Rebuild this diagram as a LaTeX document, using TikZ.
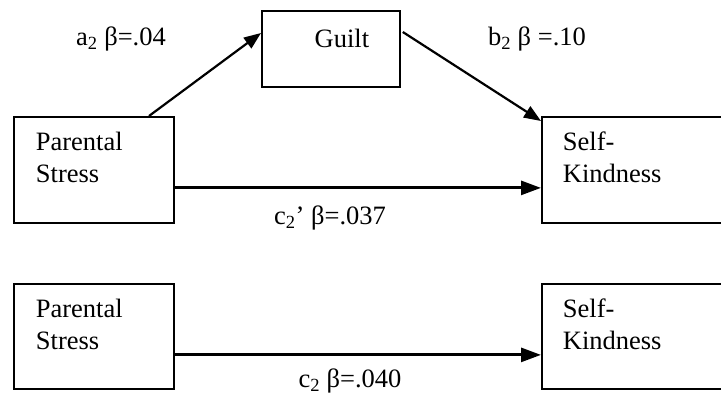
\documentclass[tikz,border=0pt]{standalone}
\usepackage{fontspec}
\setmainfont{Liberation Serif}
\usetikzlibrary{arrows.meta,calc}

% text block inside a box: fixed height and width, top aligned,
% first baseline lowered by a strut of the given height
\newcommand{\cellbody}[5]{\parbox[c][#1][t]{#2}{#4\rule{0pt}{#3}#5}}

\tikzset{
  every node/.style={font=\fontsize{26.5pt}{32pt}\selectfont},
  varbox/.style={draw, line width=1.8pt, rectangle, inner sep=0pt, anchor=north west},
  path/.style={line width=2.2pt, -{Triangle[length=17pt,width=13pt]}},
  mainpath/.style={line width=2.8pt, -{Triangle[length=20pt,width=14pt]}},
  coef/.style={anchor=base, inner sep=0pt}
}

\begin{document}
\begin{tikzpicture}[x=1pt, y=-1pt]
  \useasboundingbox (0,0) rectangle (721,398);
  \clip (0,0) rectangle (721,398);

  % mediation model
  \node[varbox] (guilt) at (261,10)
    {\hspace{22pt}\cellbody{76pt}{116pt}{37pt}{\centering}{Guilt}\hspace{22pt}};
  \node[varbox] (ps1) at (13,116)
    {\hspace{22pt}\cellbody{106pt}{138pt}{34pt}{}{Parental\\Stress}};
  \node[varbox] (sk1) at (541,116)
    {\hspace{21pt}\cellbody{106pt}{170pt}{34pt}{}{Self-\\Kindness}};

  \draw[path] ($(ps1.north west)+(136,0)$) -- ($(guilt.north west)+(0,23)$);
  \draw[path] ($(guilt.north east)+(2,22)$) -- ($(sk1.north west)+(0,5)$);
  \draw[mainpath] ($(ps1.east)+(0,18)$) -- ($(sk1.west)+(0,18)$);

  \node[coef] (a2) at (121,46) {a\textsubscript{2} β=.04};
  \node[coef] (b2) at (537,46) {b\textsubscript{2} β =.10};
  \node[coef] (c2p) at (330,225) {c\textsubscript{2}’ β=.037};

  % total effect
  \node[varbox] (ps2) at (13,283)
    {\hspace{22pt}\cellbody{105pt}{138pt}{34pt}{}{Parental\\Stress}};
  \node[varbox] (sk2) at (541,283)
    {\hspace{21pt}\cellbody{105pt}{170pt}{34pt}{}{Self-\\Kindness}};

  \draw[mainpath] ($(ps2.east)+(0,18.5)$) -- ($(sk2.west)+(0,18.5)$);

  \node[coef] (c2) at (350,388) {c\textsubscript{2} β=.040};
\end{tikzpicture}
\end{document}
